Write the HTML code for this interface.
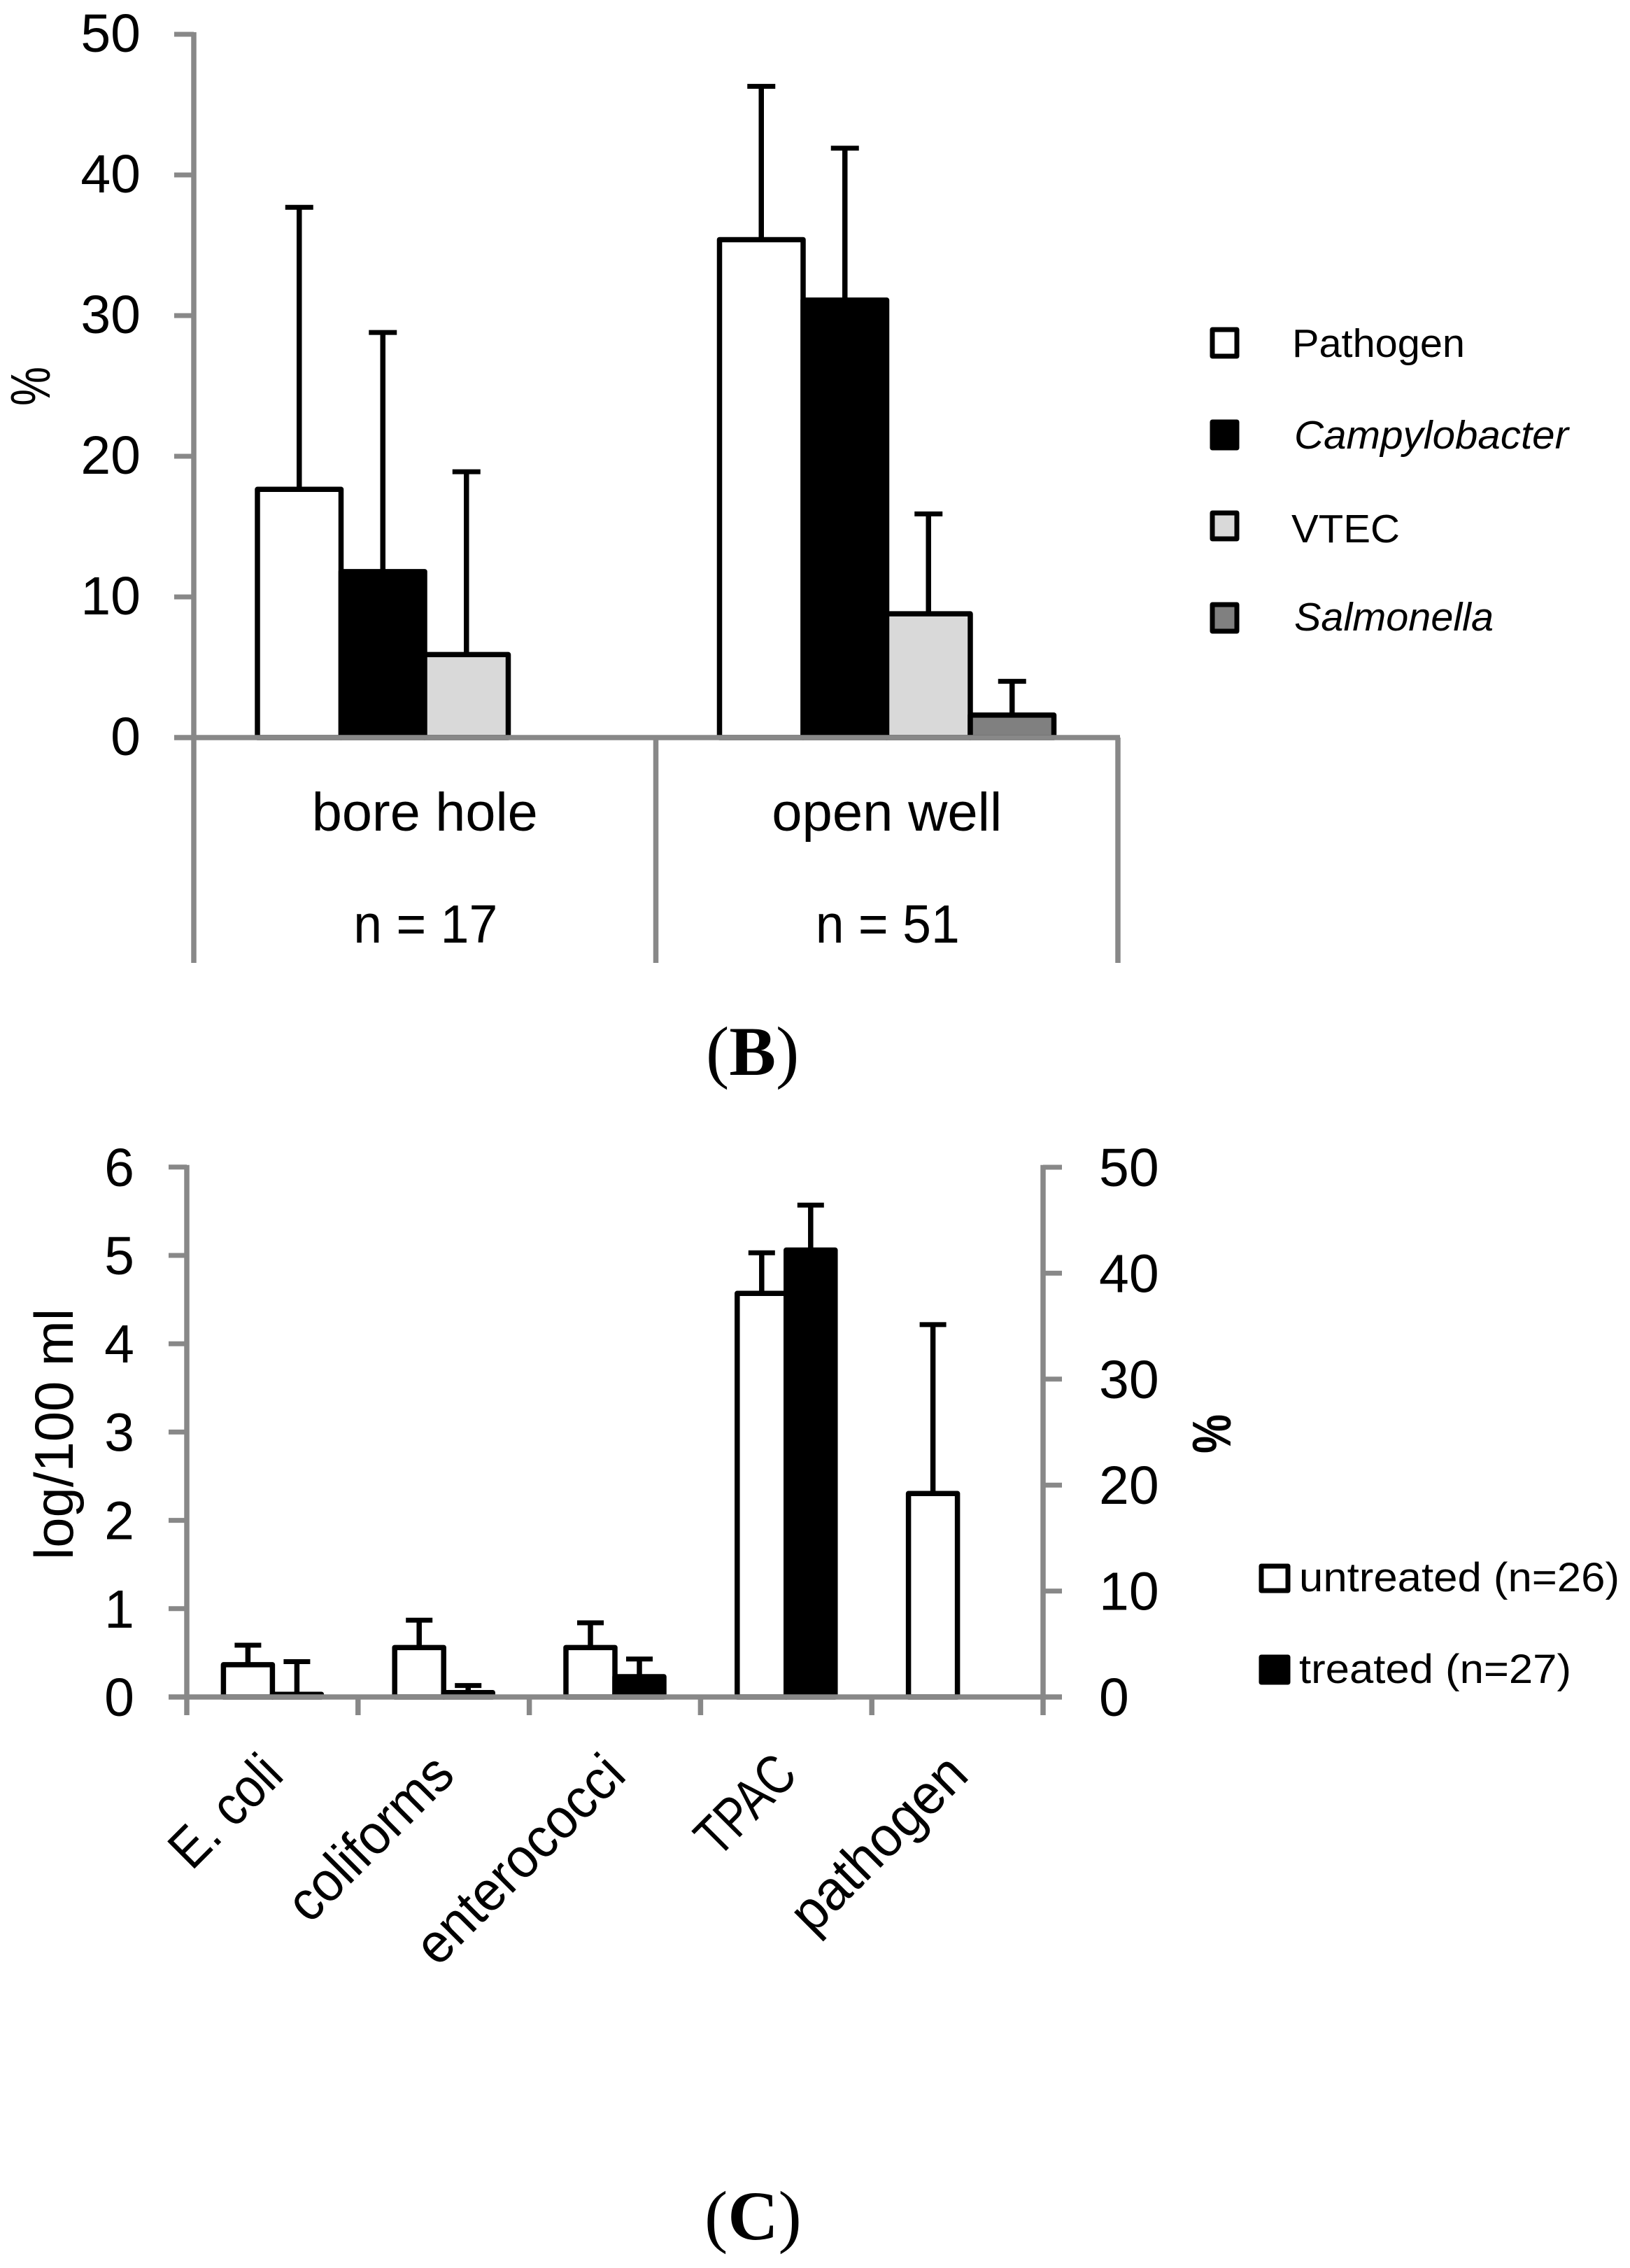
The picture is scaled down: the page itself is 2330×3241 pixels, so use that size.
<!DOCTYPE html>
<html lang="en">
<head>
<meta charset="utf-8">
<title>Bacterial contamination charts</title>
<style>
html,body{margin:0;padding:0;background:#fff;}
svg{display:block;}
text{font-family:"Liberation Sans",sans-serif;fill:#000;}
.serif{font-family:"Liberation Serif",serif;}
</style>
</head>
<body>
<svg id="figure" xmlns="http://www.w3.org/2000/svg" width="2330" height="3241" viewBox="0 0 2330 3241">
  <rect x="0" y="0" width="2330" height="3241" fill="#fff"/>
  <g id="chart-b"></g>
  <g id="chart-c"></g>

  <!-- Panel B static text -->
  <text transform="translate(71,580) rotate(-90)" font-size="80" textLength="56" lengthAdjust="spacingAndGlyphs">%</text>
  <text class="serif" x="1009" y="1536" font-size="100"><tspan>(</tspan><tspan font-weight="bold">B</tspan><tspan>)</tspan></text>

  <g>
    <rect x="1733" y="471" width="35" height="38" fill="#fff" stroke="#000" stroke-width="7" stroke-linejoin="round"/>
    <text x="1847" y="510" font-size="57" textLength="247" lengthAdjust="spacingAndGlyphs">Pathogen</text>
    <rect x="1733" y="603" width="35" height="37" fill="#000" stroke="#000" stroke-width="7" stroke-linejoin="round"/>
    <text x="1850" y="641" font-size="57" font-style="italic" textLength="392" lengthAdjust="spacingAndGlyphs">Campylobacter</text>
    <rect x="1733" y="733" width="35" height="37" fill="#d9d9d9" stroke="#000" stroke-width="7" stroke-linejoin="round"/>
    <text x="1846" y="775" font-size="57" textLength="155" lengthAdjust="spacingAndGlyphs">VTEC</text>
    <rect x="1733" y="864" width="35" height="38" fill="#808080" stroke="#000" stroke-width="7" stroke-linejoin="round"/>
    <text x="1850" y="901" font-size="57" font-style="italic" textLength="285" lengthAdjust="spacingAndGlyphs">Salmonella</text>
  </g>

  <!-- Panel C static text -->
  <text transform="translate(104,2229) rotate(-90)" font-size="78" textLength="359" lengthAdjust="spacingAndGlyphs">log/100 ml</text>
  <text transform="translate(1759,2077) rotate(-90)" font-size="78" font-weight="bold" textLength="56" lengthAdjust="spacingAndGlyphs">%</text>
  <text class="serif" x="1007" y="3200" font-size="100"><tspan>(</tspan><tspan font-weight="bold">C</tspan><tspan>)</tspan></text>

  <g>
    <rect x="1803" y="2238" width="38" height="35" fill="#fff" stroke="#000" stroke-width="7" stroke-linejoin="round"/>
    <text x="1857" y="2274" font-size="58" textLength="458" lengthAdjust="spacingAndGlyphs">untreated (n=26)</text>
    <rect x="1803" y="2368" width="38" height="36" fill="#000" stroke="#000" stroke-width="7" stroke-linejoin="round"/>
    <text x="1857" y="2405" font-size="58" textLength="389" lengthAdjust="spacingAndGlyphs">treated (n=27)</text>
  </g>
</svg>

<script>
/* ---------- Panel B data ---------- */
var bGroups = ['bore hole', 'open well'];
var bCounts = ['n = 17', 'n = 51'];
var bTicks = [0, 10, 20, 30, 40, 50];
var bSeriesNames = ['pathogen', 'campylobacter', 'vtec', 'salmonella'];
var bPathogen = [17.65, 35.4];
var bPathogenErr = [37.7, 46.3];
var bCampylobacter = [11.8, 31.1];
var bCampylobacterErr = [28.8, 41.9];
var bVtec = [5.9, 8.8];
var bVtecErr = [18.9, 15.9];
var bSalmonella = [0, 1.6];
var bSalmonellaErr = [0, 4.0];

/* ---------- Panel C data ---------- */
var cCategories = ['E. coli', 'coliforms', 'enterococci', 'TPAC', 'pathogen'];
var cLeftTicks = [0, 1, 2, 3, 4, 5, 6];
var cRightTicks = [0, 10, 20, 30, 40, 50];
var cUntreatedLog = [0.365, 0.56, 0.56, 4.57];
var cUntreatedLogErr = [0.586, 0.87, 0.84, 5.03];
var cTreatedLog = [0.03, 0.05, 0.23, 5.06];
var cTreatedLogErr = [0.4, 0.13, 0.43, 5.57];
var cPathogenPct = [19.2];
var cPathogenPctErr = [35.15];
var cLabelLengths = [190, 298, 385, 165, 320];

var NS = 'http://www.w3.org/2000/svg';
var AXIS = '#888888';
var STROKE = 7.5;

function mk(parent, tag, attrs, content) {
  var el = document.createElementNS(NS, tag);
  for (var k in attrs) { el.setAttribute(k, attrs[k]); }
  if (content !== undefined) { el.textContent = content; }
  parent.appendChild(el);
  return el;
}
function rectLine(parent, x1, y1, x2, y2, w, color) {
  return mk(parent, 'line', {x1: x1, y1: y1, x2: x2, y2: y2, stroke: color, 'stroke-width': w});
}

/* ---------- Panel B ---------- */
var gb = document.getElementById('chart-b');
function byB(v) { return 1054 - v * 20.1; }
function bxB(g, s) { return 277 + g * 660.5 + 91 + (s + 0.5) * 119.5; }
function bandB(g) { return 277 + g * 660.5; }

var bVals = [bPathogen, bCampylobacter, bVtec, bSalmonella];
var bErrs = [bPathogenErr, bCampylobacterErr, bVtecErr, bSalmonellaErr];
var bFills = ['#ffffff', '#000000', '#d9d9d9', '#808080'];
var BW = 119.5;

bGroups.forEach(function (g, gi) {
  bVals.forEach(function (vals, si) {
    var v = vals[gi];
    if (!v) { return; }
    var cx = bxB(gi, si);
    var bar = mk(gb, 'rect', {x: cx - BW / 2, y: byB(v), width: BW, height: byB(0) - byB(v), fill: bFills[si], stroke: '#000', 'stroke-width': STROKE, 'stroke-linejoin': 'round'});
    
    
  });
  bVals.forEach(function (vals, si) {
    var v = vals[gi], e = bErrs[si][gi];
    if (!v) { return; }
    var cx = bxB(gi, si);
    var stem = rectLine(gb, cx, byB(v), cx, byB(e), STROKE, '#000');
    
    
    var cap = rectLine(gb, cx - 20, byB(e), cx + 20, byB(e), 7, '#000');
    
    
  });
});

var bAxisY = rectLine(gb, bandB(0), 46, bandB(0), 1376, STROKE, AXIS);


var bAxisX = rectLine(gb, 249, byB(0), bandB(2) + 3, byB(0), STROKE, AXIS);



[1, 2].forEach(function (i) {
  var sep = rectLine(gb, bandB(i), byB(0), bandB(i), 1376, STROKE, AXIS);
  
  
});

bTicks.forEach(function (t) {
  if (t !== 0) {
    var tk = rectLine(gb, 249, byB(t), 277, byB(t), 7, AXIS);
    
    
  }
  var lb = mk(gb, 'text', {x: 201, y: byB(t) + 25, 'font-size': 77, 'text-anchor': 'end'}, String(t));
  
  
});

bGroups.forEach(function (g, gi) {
  var cx = (bandB(gi) + bandB(gi + 1)) / 2;
  var lb = mk(gb, 'text', {x: cx, y: 1187, 'font-size': 77, 'text-anchor': 'middle', textLength: gi === 0 ? 323 : 329, lengthAdjust: 'spacingAndGlyphs'}, g);
  
  
  var n = mk(gb, 'text', {x: cx + 1, y: 1347, 'font-size': 77, 'text-anchor': 'middle', textLength: 206, lengthAdjust: 'spacingAndGlyphs'}, bCounts[gi]);
  
  
});

/* ---------- Panel C ---------- */
var gc = document.getElementById('chart-c');
function yL(v) { return 2425 - v * 126.2; }
function yR(v) { return 2425 - v * 15.14; }
function bandC(i) { return 267 + i * 244.8; }
function xC(i, s) { return bandC(i) + 52.4 + (s + 0.5) * 70; }
var CW = 70;

function cBar(i, s, yTop, yErr, fill, name) {
  var cx = xC(i, s);
  var bar = mk(gc, 'rect', {x: cx - CW / 2, y: yTop, width: CW, height: yL(0) - yTop, fill: fill, stroke: '#000', 'stroke-width': STROKE, 'stroke-linejoin': 'round'});
  
  
  var stem = rectLine(gc, cx, yTop, cx, yErr, STROKE, '#000');
  
  
  var cap = rectLine(gc, cx - 19, yErr, cx + 19, yErr, 7, '#000');
  
  
}

cUntreatedLog.forEach(function (v, i) {
  cBar(i, 0, yL(v), yL(cUntreatedLogErr[i]), '#ffffff', 'untreated-' + cCategories[i].toLowerCase().replace('. ', '-'));
  cBar(i, 1, yL(cTreatedLog[i]), yL(cTreatedLogErr[i]), '#000000', 'treated-' + cCategories[i].toLowerCase().replace('. ', '-'));
});
cPathogenPct.forEach(function (v, i) {
  cBar(4, 0, yR(v), yR(cPathogenPctErr[i]), '#ffffff', 'untreated-pathogen');
});

var cAxisL = rectLine(gc, bandC(0), yL(6) - 3, bandC(0), 2451, STROKE, AXIS);


var cAxisR = rectLine(gc, bandC(5), yL(6) - 3, bandC(5), 2451, STROKE, AXIS);


var cAxisX = rectLine(gc, 241, yL(0), 1518, yL(0), STROKE, AXIS);



[1, 2, 3, 4].forEach(function (i) {
  var tk = rectLine(gc, bandC(i), yL(0), bandC(i), 2451, STROKE, AXIS);
  
  
});

cLeftTicks.forEach(function (t) {
  if (t !== 0) {
    var tk = rectLine(gc, 241, yL(t), 267, yL(t), 7, AXIS);
    
    
  }
  var lb = mk(gc, 'text', {x: 192, y: yL(t) + 27, 'font-size': 77, 'text-anchor': 'end'}, String(t));
  
  
});

cRightTicks.forEach(function (t) {
  if (t !== 0) {
    var tk = rectLine(gc, 1491, yR(t), 1518, yR(t), 7, AXIS);
    
    
  }
  var lb = mk(gc, 'text', {x: 1571, y: yR(t) + 27, 'font-size': 77}, String(t));
  
  
});

cCategories.forEach(function (c, i) {
  var ax = bandC(i) + 122.4 + 19;
  var lb = mk(gc, 'text', {transform: 'translate(' + ax + ',2540) rotate(-45)', 'font-size': 80, 'text-anchor': 'end', textLength: cLabelLengths[i], lengthAdjust: 'spacingAndGlyphs'}, c);
  
  
});
</script>
</body>
</html>
